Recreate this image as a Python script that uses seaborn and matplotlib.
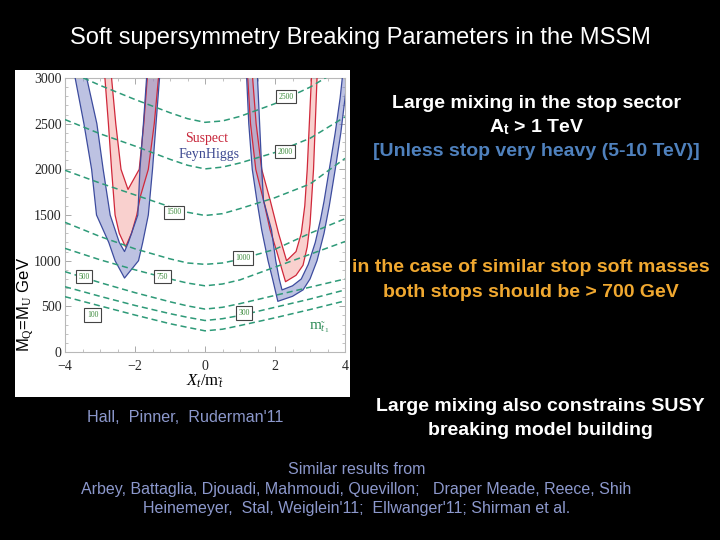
import numpy as np
import pandas as pd
import matplotlib
matplotlib.use('Agg')
import matplotlib.pyplot as plt
from matplotlib.patches import Rectangle
from matplotlib.ticker import MultipleLocator
import seaborn as sns

# stop mass contours m_stop1 (GeV): M_Q = M_U needed at each X_t/m_stop
xt_grid = [-4, -3, -2, -1, -0.5, 0, 0.5, 1, 2, 3, 4]
contour_masses = [2500, 2000, 1500, 1000, 750, 500, 300, 100]
m2500 = [3090, 2920, 2765, 2620, 2555, 2515, 2530, 2580, 2720, 2900, 3130]
m2000 = [2545, 2390, 2255, 2110, 2045, 2005, 2025, 2070, 2185, 2340, 2575]
m1500 = [1990, 1850, 1720, 1590, 1530, 1495, 1515, 1570, 1690, 1840, 2120]
m1000 = [1420, 1265, 1130, 1020, 975, 960, 975, 1015, 1125, 1300, 1460]
m750 = [1135, 1010, 900, 800, 755, 725, 745, 790, 930, 1070, 1210]
m500 = [880, 760, 650, 550, 505, 470, 490, 530, 620, 710, 800]
m300 = [715, 610, 510, 420, 380, 345, 365, 400, 490, 580, 680]
m100 = [606, 505, 405, 310, 270, 232, 250, 290, 375, 465, 560]

# contour label positions (X_t/m, M)
label_x = [2.31, 2.29, -0.89, 1.09, -1.21, -3.46, 1.11, -3.21]
label_m = [2795, 2193, 1528, 1029, 824, 824, 427, 405]

# m_h = 125 GeV bands, left (X_t < 0) and right (X_t > 0) branches
# FeynHiggs, left
fhl_out_x = [-3.78, -3.71, -3.46, -3.24, -3.1, -2.75, -2.57, -2.3, -1.9, -1.78, -1.62, -1.5, -1.4, -1.3, -1.27]
fhl_out_m = [3100, 3000, 2500, 2000, 1500, 1200, 1000, 810, 1000, 1200, 1500, 2000, 2500, 3000, 3100]
fhl_in_x = [-3.42, -3.38, -3.09, -2.91, -2.71, -2.45, -2.3, -2.19, -1.92, -1.86, -1.76, -1.67, -1.65]
fhl_in_m = [3100, 3000, 2500, 2000, 1500, 1200, 1100, 1200, 1500, 2000, 2500, 3000, 3100]
# Suspect, left
spl_out_x = [-2.9, -2.86, -2.76, -2.67, -2.57, -2.45, -2.27, -2.1, -1.95, -1.85, -1.62, -1.45, -1.33, -1.3]
spl_out_m = [3100, 3000, 2500, 2000, 1500, 1300, 1150, 1300, 1500, 1700, 2000, 2500, 3000, 3100]
spl_in_x = [-2.69, -2.67, -2.55, -2.4, -2.2, -1.88, -1.75, -1.65, -1.63]
spl_in_m = [3100, 3000, 2500, 2000, 1780, 2000, 2500, 3000, 3100]
# Suspect, right
spr_out_x = [1.2, 1.22, 1.3, 1.45, 1.67, 1.86, 2.05, 2.2, 2.3, 2.6, 2.8, 2.92, 3.0, 3.05, 3.1, 3.15, 3.2, 3.22]
spr_out_m = [3100, 3000, 2500, 2000, 1664, 1336, 1100, 900, 770, 840, 950, 1150, 1400, 1700, 2000, 2500, 3000, 3100]
spr_in_x = [1.34, 1.36, 1.46, 1.62, 1.86, 2.1, 2.33, 2.6, 2.75, 2.85, 2.92, 2.98, 3.04, 3.06]
spr_in_m = [3100, 3000, 2500, 2000, 1664, 1300, 1000, 1100, 1300, 1600, 2000, 2500, 3000, 3100]
# FeynHiggs, right
fhr_out_x = [1.17, 1.19, 1.25, 1.35, 1.48, 1.62, 1.8, 1.93, 2.08, 2.5, 2.8, 3.0, 3.2, 3.4, 3.55, 3.72, 3.88, 4.0, 4.1]
fhr_out_m = [3100, 3000, 2500, 2000, 1664, 1336, 1000, 800, 555, 610, 680, 800, 1000, 1300, 1600, 2000, 2400, 2780, 3100]
fhr_in_x = [1.49, 1.5, 1.56, 1.62, 1.67, 1.9, 2.02, 2.12, 2.2, 2.5, 2.75, 2.95, 3.15, 3.3, 3.4, 3.55, 3.72, 3.86, 3.95]
fhr_in_m = [3100, 3000, 2500, 2000, 1664, 1336, 1000, 800, 680, 725, 800, 960, 1200, 1450, 1650, 2000, 2400, 2780, 3100]

sns.set_style('ticks')
plt.rcParams['font.family'] = ['Liberation Sans', 'DejaVu Sans']
plt.rcParams['mathtext.fontset'] = 'custom'
plt.rcParams['mathtext.rm'] = 'Liberation Serif'
plt.rcParams['mathtext.it'] = 'Liberation Serif:italic'

fig = plt.figure(figsize=(7.2, 5.4), dpi=100, facecolor='black')
fig.patches.append(Rectangle((0.021, 0.265), 0.465, 0.606, transform=fig.transFigure,
                             facecolor='white', edgecolor='none', zorder=-5))
ax = fig.add_axes([0.0903, 0.3481, 0.3889, 0.5074])
ax.set_facecolor('white')

red_fill, red_edge = '#f2908c', '#d0283a'
blue_fill, blue_edge = '#7d86c6', '#3d4c9e'
green = '#2e9a78'


def draw_band(out_x, out_m, in_x, in_m, fill, edge, alpha):
    poly_x = list(out_x) + list(in_x)[::-1]
    poly_m = list(out_m) + list(in_m)[::-1]
    ax.fill(poly_x, poly_m, facecolor=fill, alpha=alpha, edgecolor='none', zorder=2)
    ax.plot(out_x, out_m, color=edge, lw=0.9, zorder=3)
    ax.plot(in_x, in_m, color=edge, lw=0.9, zorder=3)


draw_band(spl_out_x, spl_out_m, spl_in_x, spl_in_m, red_fill, red_edge, 0.42)
draw_band(spr_out_x, spr_out_m, spr_in_x, spr_in_m, red_fill, red_edge, 0.42)
draw_band(fhl_out_x, fhl_out_m, fhl_in_x, fhl_in_m, blue_fill, blue_edge, 0.5)
draw_band(fhr_out_x, fhr_out_m, fhr_in_x, fhr_in_m, blue_fill, blue_edge, 0.5)

# dashed stop-mass contours
curves = [m2500, m2000, m1500, m1000, m750, m500, m300, m100]
df = pd.DataFrame({
    'xt': np.tile(xt_grid, len(curves)),
    'M': np.concatenate(curves),
    'mstop': np.repeat(contour_masses, len(xt_grid)),
})
sns.lineplot(data=df, x='xt', y='M', units='mstop', estimator=None, color=green,
             linestyle=(0, (4, 2.5)), lw=1.1, ax=ax, zorder=4, legend=False)

for lx, lm, lab in zip(label_x, label_m, contour_masses):
    ax.text(lx, lm, str(lab), ha='center', va='center', fontsize=5.5, color='#3a8a3a',
            family='Liberation Serif', zorder=6,
            bbox=dict(boxstyle='square,pad=0.35', facecolor='white', edgecolor='#444444', lw=0.8))

ax.text(0.05, 2340, 'Suspect', color='#c8283c', fontsize=10, family='Liberation Serif',
        ha='center', va='center', zorder=6)
ax.text(0.11, 2160, 'FeynHiggs', color='#3c4890', fontsize=10, family='Liberation Serif',
        ha='center', va='center', zorder=6)
ax.text(3.25, 265, r'$\mathrm{m}_{\tilde{t}_1}$', color='#2e8b57', fontsize=11,
        ha='center', va='center', zorder=6)

ax.set_xlim(-4, 4)
ax.set_ylim(0, 3000)
ax.xaxis.set_major_locator(MultipleLocator(2))
ax.xaxis.set_minor_locator(MultipleLocator(0.5))
ax.yaxis.set_major_locator(MultipleLocator(500))
ax.yaxis.set_minor_locator(MultipleLocator(100))
ax.tick_params(which='both', direction='in', top=True, right=True, color='#aaaaaa')
ax.tick_params(which='major', length=4, width=0.7, labelsize=10, pad=2.5,
               labelfontfamily='Liberation Serif')
ax.tick_params(axis='x', which='major', pad=5.5)
ax.tick_params(which='minor', length=2, width=0.5)
for sp in ax.spines.values():
    sp.set_color('#b8b8b8')
    sp.set_linewidth(0.8)
ax.set_xlabel(r'$X_t/\mathrm{m}_{\tilde{t}}$', fontsize=12, labelpad=0, color='black')
ax.set_ylabel('')

fig.text(0.036, 0.437, r'M$_\mathrm{Q}$=M$_\mathrm{U}$ GeV', rotation=90, ha='center',
         va='center', fontsize=12, color='black', family='Liberation Sans')

# slide text
fig.text(0.5, 0.93, 'Soft supersymmetry Breaking Parameters in the MSSM', ha='center',
         va='center', color='white', fontsize=17)
fig.text(0.745, 0.809, 'Large mixing in the stop sector', ha='center', va='center',
         color='white', fontsize=14, weight='bold')
fig.text(0.745, 0.764, r'A$_\mathregular{t}$ > 1 TeV', ha='center', va='center',
         color='white', fontsize=14, weight='bold')
fig.text(0.745, 0.719, '[Unless stop very heavy (5-10 TeV)]', ha='center', va='center',
         color='#4f81bd', fontsize=14, weight='bold')
fig.text(0.737, 0.504, 'in the case of similar stop soft masses', ha='center', va='center',
         color='#f0a830', fontsize=14, weight='bold')
fig.text(0.737, 0.459, 'both stops should be > 700 GeV', ha='center', va='center',
         color='#f0a830', fontsize=14, weight='bold')
fig.text(0.750, 0.248, 'Large mixing also constrains SUSY', ha='center', va='center',
         color='white', fontsize=14, weight='bold')
fig.text(0.750, 0.202, 'breaking model building', ha='center', va='center',
         color='white', fontsize=14, weight='bold')
fig.text(0.257, 0.226, "Hall,  Pinner,  Ruderman'11", ha='center', va='center',
         color='#8c98cc', fontsize=11.6)
credit_col = '#8c98cc'
fig.text(0.496, 0.130, 'Similar results from', ha='center', va='center', color=credit_col, fontsize=11.5)
fig.text(0.494, 0.094, 'Arbey, Battaglia, Djouadi, Mahmoudi, Quevillon;   Draper Meade, Reece, Shih',
         ha='center', va='center', color=credit_col, fontsize=11.5)
fig.text(0.496, 0.059, "Heinemeyer,  Stal, Weiglein'11;  Ellwanger'11; Shirman et al.",
         ha='center', va='center', color=credit_col, fontsize=11.5)

fig.savefig('out.png', dpi=100, facecolor='black')
